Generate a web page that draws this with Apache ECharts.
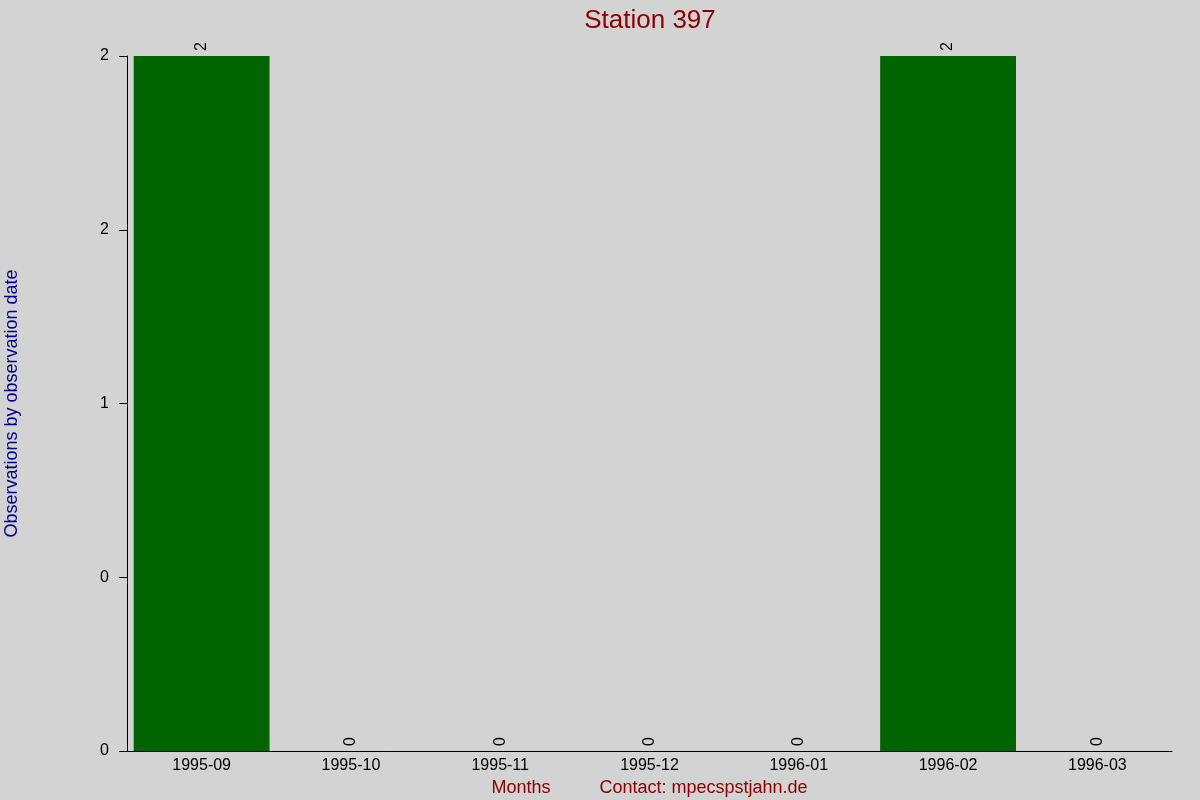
<!DOCTYPE html>
<html>
<head>
    <meta charset="utf-8">
    <title>Station 397</title>
    <script src="https://cdn.jsdelivr.net/npm/echarts@6/dist/echarts.min.js"></script>
    <style>
        html, body { margin: 0; padding: 0; background: #d3d3d3; }
        #chart1 { width: 1200px; height: 800px; }
    </style>
</head>
<body>
<div id="chart1"></div>
<script type="text/javascript">
    // data
    var months = ['1995-09', '1995-10', '1995-11', '1995-12', '1996-01', '1996-02', '1996-03'];
    var counts = [2, 0, 0, 0, 0, 2, 0];
    // y ticks are 0, 0.5, 1, 1.5, 2 but the original prints them rounded
    var yTickValues = [0, 0.5, 1, 1.5, 2];
    var yTickLabels = ['0', '0', '1', '2', '2'];

    var myChart1 = echarts.init(document.getElementById('chart1'));

    myChart1.setOption({
        backgroundColor: '#d3d3d3',
        animation: false,
        textStyle: { fontFamily: 'Liberation Sans, Arial, sans-serif' },
        title: {//标题
            text: 'Station 397',
            left: 645,
            textAlign: 'center',
            top: 3,
            textStyle: { color: '#8b0000', fontSize: 26, fontWeight: 'normal' }
        },
        grid: { left: 127, right: 28, top: 56, bottom: 49, outerBoundsMode: 'none', containLabel: false },
        xAxis: {
            type: 'category',
            data: months,
            name: '{a|Months}{s|}{a|Contact: mpecspstjahn.de}',
            nameLocation: 'middle',
            nameGap: 25,
            nameTextStyle: {
                rich: {
                    a: { color: '#8b0000', fontSize: 18 },
                    s: { width: 49 }
                }
            },
            axisLine: { lineStyle: { color: '#000', width: 1 } },
            axisTick: { show: false },
            axisLabel: { color: '#000', fontSize: 16, margin: 7 },
            splitLine: { show: false }
        },
        yAxis: {
            type: 'value',
            min: 0,
            max: 2,
            interval: 0.5,
            name: 'Observations by observation date',
            nameLocation: 'middle',
            nameGap: 106,
            nameTextStyle: { color: '#00008b', fontSize: 18 },
            axisLine: { show: true, lineStyle: { color: '#000', width: 1 } },
            axisTick: { show: true, length: 8, lineStyle: { color: '#000' } },
            axisLabel: {
                color: '#000',
                fontSize: 16,
                margin: 18,
                formatter: function (v) {
                    var i = yTickValues.indexOf(v);
                    return i >= 0 ? yTickLabels[i] : '';
                }
            },
            splitLine: { show: false }
        },
        series: [{
            type: 'bar',
            data: counts,
            barCategoryGap: '9%',
            itemStyle: { color: '#006400' },
            label: {
                show: true,
                position: 'top',
                rotate: 90,
                align: 'left',
                verticalAlign: 'middle',
                distance: 5,
                color: '#000',
                fontSize: 16
            }
        }]
    });
</script>
</body>
</html>
